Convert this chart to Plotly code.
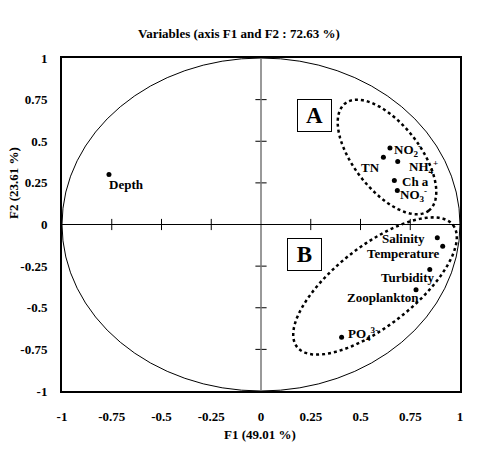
import numpy as np
import plotly.graph_objects as go

# Variable coordinates (F1, F2)
names = ["Depth", "NO2", "TN", "NH4", "Ch a", "NO3", "Salinity", "Temperature",
         "Turbidity", "Zooplankton", "PO4"]
labels = ["Depth", "NO<sub>2</sub><sup>-</sup>", "TN", "NH<sub>4</sub><sup>+</sup>", "Ch a",
          "NO<sub>3</sub><sup>-</sup>", "Salinity", "Temperature", "Turbidity",
          "Zooplankton", "PO<sub>4</sub><sup>3-</sup>"]
f1 = [-0.764, 0.648, 0.615, 0.687, 0.670, 0.685, 0.886, 0.913, 0.848, 0.779, 0.405]
f2 = [0.300, 0.459, 0.404, 0.378, 0.264, 0.204, -0.080, -0.130, -0.270, -0.392, -0.677]
# label anchor, xshift, yshift
lab_pos = [("left", -2, -10), ("left", 2, -2), ("right", -1, -10), ("left", 9, -5),
           ("left", 6, -1), ("left", 1, -4), ("right", -10, -1), ("right", -2, -7),
           ("right", 6, -8), ("right", 5, -8), ("left", 4, 3)]

tick_vals = [-1, -0.75, -0.5, -0.25, 0, 0.25, 0.5, 0.75, 1]
tick_text = ["-1", "-0.75", "-0.5", "-0.25", "0", "0.25", "0.5", "0.75", "1"]

W, H = 479, 471
ML, MR, MT, MB = 62, 19, 58, 80
PW = W - ML - MR
PH = H - MT - MB

def px2data(px, py):
    x = (px - ML) / PW * 2 - 1
    y = 1 - (py - MT) / PH * 2
    return x, y

def ellipse_path(cx, cy, a, b, ang_deg):
    t = np.linspace(0, 2 * np.pi, 120)
    ang = np.deg2rad(ang_deg)
    px = cx + a * np.cos(t) * np.cos(ang) - b * np.sin(t) * np.sin(ang)
    py = cy + a * np.cos(t) * np.sin(ang) + b * np.sin(t) * np.cos(ang)
    pts = [px2data(u, v) for u, v in zip(px, py)]
    return "M " + " L ".join(f"{x:.4f},{y:.4f}" for x, y in pts) + " Z"

bold = dict(family="Liberation Serif", size=13, color="black")

fig = go.Figure()

# zero-line tick marks
fig.add_trace(go.Scatter(x=[v for v in tick_vals if v not in (-1, 0, 1)],
                         y=[0] * 6, mode="markers",
                         marker=dict(symbol="line-ns", size=8, line=dict(width=1, color="black")),
                         hoverinfo="skip", showlegend=False))
fig.add_trace(go.Scatter(y=[v for v in tick_vals if v not in (-1, 0, 1)],
                         x=[0] * 6, mode="markers",
                         marker=dict(symbol="line-ew", size=8, line=dict(width=1, color="black")),
                         hoverinfo="skip", showlegend=False))

fig.add_trace(go.Scatter(x=f1, y=f2, mode="markers",
                         marker=dict(size=5, color="black"),
                         showlegend=False, hoverinfo="skip"))

shapes = [
    dict(type="circle", xref="x", yref="y", x0=-1, y0=-1, x1=1, y1=1,
         line=dict(color="black", width=1)),
    dict(type="line", xref="x", yref="y", x0=0, x1=0, y0=-1, y1=1,
         line=dict(color="#777777", width=1.5)),
    dict(type="line", xref="x", yref="y", x0=-1, x1=1, y0=0, y1=0,
         line=dict(color="black", width=1)),
    dict(type="path", xref="x", yref="y", path=ellipse_path(387, 157, 68, 33, 52),
         line=dict(color="black", width=2.5, dash="dot")),
    dict(type="path", xref="x", yref="y", path=ellipse_path(375, 286, 99, 40, -38),
         line=dict(color="black", width=2.5, dash="dot")),
]

annotations = []
for lab, x, y, (anc, xs, ys) in zip(labels, f1, f2, lab_pos):
    annotations.append(dict(x=x, y=y, xref="x", yref="y", text=f"<b>{lab}</b>",
                            showarrow=False, xanchor=anc, yanchor="middle",
                            xshift=xs, yshift=ys, font=bold))

# boxed letters
for letter, (bx, by) in [("A", (314, 115)), ("B", (304, 254))]:
    dx, dy = px2data(bx, by)
    annotations.append(dict(x=dx, y=dy, xref="x", yref="y", text=f"<b>{letter}</b>",
                            showarrow=False, xanchor="center", yanchor="middle",
                            font=dict(family="Liberation Serif", size=23, color="black"),
                            bordercolor="black", borderwidth=1, borderpad=3,
                            bgcolor="white", width=27, height=25))

annotations.append(dict(x=(239 - ML) / PW, y=1 + (MT - 33) / PH, xref="paper", yref="paper",
                        text="<b>Variables (axis F1 and F2 : 72.63 %)</b>", showarrow=False,
                        xanchor="center", yanchor="middle", font=bold))
annotations.append(dict(x=(260 - ML) / PW, y=-(435 - MT - PH) / PH, xref="paper", yref="paper",
                        text="<b>F1 (49.01 %)</b>", showarrow=False,
                        xanchor="center", yanchor="middle", font=bold))
annotations.append(dict(x=-(ML - 13) / PW, y=1 - (183 - MT) / PH, xref="paper", yref="paper",
                        text="<b>F2 (23.61 %)</b>", showarrow=False, textangle=-90,
                        xanchor="center", yanchor="middle", font=bold))

fig.update_layout(
    width=W, height=H, margin=dict(l=ML, r=MR, t=MT, b=MB),
    paper_bgcolor="white", plot_bgcolor="white",
    shapes=shapes, annotations=annotations, showlegend=False,
    xaxis=dict(range=[-1, 1], tickvals=tick_vals,
               ticktext=[f"<b>{t}</b>" for t in tick_text], tickfont=bold,
               showgrid=False, zeroline=False, showline=True, mirror=True,
               linecolor="black", linewidth=2, ticks="", ticklabelstandoff=12),
    yaxis=dict(range=[-1, 1], tickvals=tick_vals,
               ticktext=[f"<b>{t}</b>" for t in tick_text], tickfont=bold,
               showgrid=False, zeroline=False, showline=True, mirror=True,
               linecolor="black", linewidth=2, ticks="", ticklabelstandoff=10),
)

fig.write_html("out.html")
